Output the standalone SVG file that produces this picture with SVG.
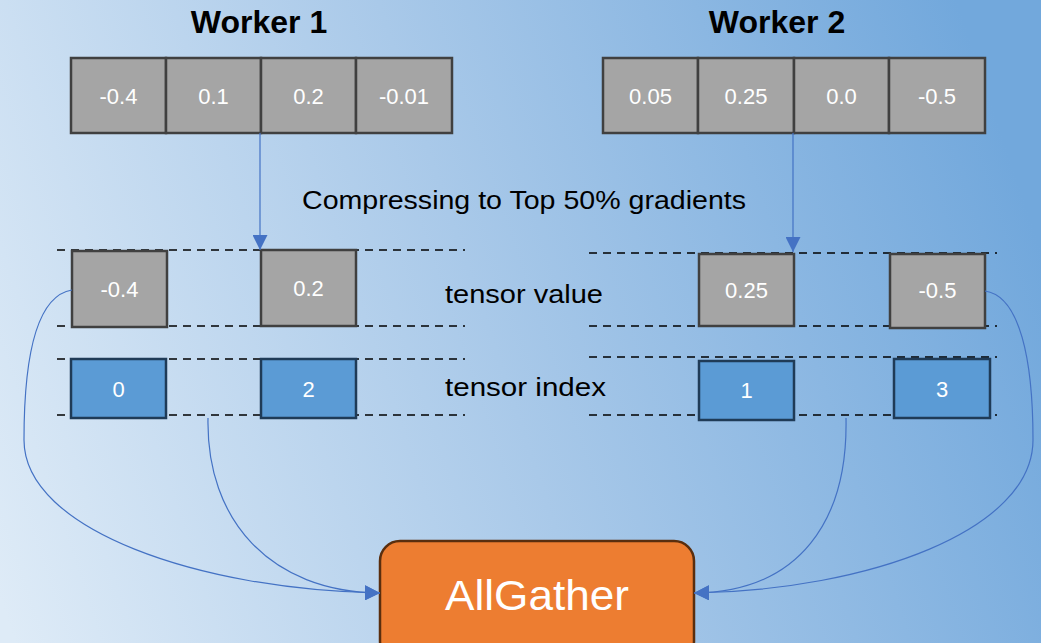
<svg xmlns="http://www.w3.org/2000/svg" width="1041" height="643" viewBox="0 0 1041 643">
<defs>
<linearGradient id="bg" x1="0" y1="600" x2="1041" y2="250" gradientUnits="userSpaceOnUse">
<stop offset="0" stop-color="#deebf7"/>
<stop offset="0.5" stop-color="#a9c9e9"/>
<stop offset="1" stop-color="#72a8dc"/>
</linearGradient>
<marker id="ah" viewBox="0 0 10 10" refX="10" refY="5" markerWidth="15" markerHeight="15" markerUnits="userSpaceOnUse" orient="auto">
<path d="M0,0 L10,5 L0,10 z" fill="#4472c4"/>
</marker>
<style>
.cell{fill:#a5a5a5;stroke:#404040;stroke-width:2.5}
.idx{fill:#5b9bd5;stroke:#1f3b57;stroke-width:2.5}
.ct{font-family:"Liberation Sans",Arial,sans-serif;font-size:22px;fill:#fff;text-anchor:middle}
.title{font-family:"Liberation Sans",Arial,sans-serif;font-size:32px;font-weight:bold;fill:#000;text-anchor:middle}
.lbl{font-family:"Liberation Sans",Arial,sans-serif;font-size:25px;fill:#000}
.dash{stroke:#000;stroke-width:1.5;stroke-dasharray:8,6;fill:none}
.conn{stroke:#4472c4;stroke-width:1.2;fill:none}
</style>
</defs>
<rect width="1041" height="643" fill="url(#bg)"/>

<g id="guides">
<line class="dash" x1="57" y1="250" x2="465" y2="250"/>
<line class="dash" x1="57" y1="326" x2="465" y2="326"/>
<line class="dash" x1="57" y1="359" x2="465" y2="359"/>
<line class="dash" x1="57" y1="415" x2="465" y2="415"/>
<line class="dash" x1="589" y1="253" x2="997" y2="253"/>
<line class="dash" x1="589" y1="326" x2="997" y2="326"/>
<line class="dash" x1="589" y1="357" x2="997" y2="357"/>
<line class="dash" x1="589" y1="415" x2="997" y2="415"/>
</g>

<g id="worker1-title"><text class="title" x="259" y="33">Worker 1</text></g>
<g id="worker2-title"><text class="title" x="777" y="33">Worker 2</text></g>

<g id="worker1-array">
<rect class="cell" x="71" y="58" width="95" height="75"/><text class="ct" x="118.5" y="104">-0.4</text>
<rect class="cell" x="166" y="58" width="95" height="75"/><text class="ct" x="213.5" y="104">0.1</text>
<rect class="cell" x="261" y="58" width="95" height="75"/><text class="ct" x="308.5" y="104">0.2</text>
<rect class="cell" x="356" y="58" width="96" height="75"/><text class="ct" x="404" y="104">-0.01</text>
</g>

<g id="worker2-array">
<rect class="cell" x="603" y="58" width="95" height="75"/><text class="ct" x="650.5" y="104">0.05</text>
<rect class="cell" x="698" y="58" width="96" height="75"/><text class="ct" x="746" y="104">0.25</text>
<rect class="cell" x="794" y="58" width="95" height="75"/><text class="ct" x="841.5" y="104">0.0</text>
<rect class="cell" x="889" y="58" width="96" height="75"/><text class="ct" x="937" y="104">-0.5</text>
</g>

<g id="compress-label"><text class="lbl" x="302" y="209" textLength="444" lengthAdjust="spacingAndGlyphs">Compressing to Top 50% gradients</text></g>
<g id="tensor-value-label"><text class="lbl" x="445" y="303" textLength="158" lengthAdjust="spacingAndGlyphs">tensor value</text></g>
<g id="tensor-index-label"><text class="lbl" x="445" y="396" textLength="161" lengthAdjust="spacingAndGlyphs">tensor index</text></g>

<g id="w1-val0"><rect class="cell" x="72" y="251" width="95" height="76"/><text class="ct" x="119.5" y="297">-0.4</text></g>
<g id="w1-val2"><rect class="cell" x="261" y="250" width="95" height="76"/><text class="ct" x="308.5" y="296">0.2</text></g>
<g id="w1-idx0"><rect class="idx" x="71" y="359" width="95" height="59"/><text class="ct" x="118.5" y="397">0</text></g>
<g id="w1-idx2"><rect class="idx" x="261" y="359" width="95" height="59"/><text class="ct" x="308.5" y="397">2</text></g>

<g id="w2-val1"><rect class="cell" x="699" y="254" width="95" height="72"/><text class="ct" x="746.5" y="298">0.25</text></g>
<g id="w2-val3"><rect class="cell" x="890" y="254" width="95" height="74"/><text class="ct" x="937.5" y="298">-0.5</text></g>
<g id="w2-idx1"><rect class="idx" x="699" y="361" width="95" height="59"/><text class="ct" x="746.5" y="398">1</text></g>
<g id="w2-idx3"><rect class="idx" x="894" y="359" width="96" height="59"/><text class="ct" x="942" y="397">3</text></g>

<g id="allgather">
<rect x="380" y="541" width="314" height="120" rx="20" ry="20" fill="#ed7d31" stroke="#5a2e0e" stroke-width="2.5"/>
<text x="537" y="610" font-family="'Liberation Sans',Arial,sans-serif" font-size="42" fill="#fff" text-anchor="middle" textLength="184" lengthAdjust="spacingAndGlyphs">AllGather</text>
</g>

<g id="connectors">
<line class="conn" x1="260" y1="133" x2="260" y2="250" marker-end="url(#ah)"/>
<line class="conn" x1="793" y1="133" x2="793" y2="252" marker-end="url(#ah)"/>
<path class="conn" d="M72,290 C35,296 24,360 24,440 C24,530 200,590 380,593" marker-end="url(#ah)"/>
<path class="conn" d="M208,418 C206,520 270,592 380,593" marker-end="url(#ah)"/>
<path class="conn" d="M846,418 C848,520 800,592 694,593" marker-end="url(#ah)"/>
<path class="conn" d="M985,291 C1020,296 1033,360 1033,440 C1033,530 870,590 694,593" marker-end="url(#ah)"/>
</g>
</svg>
